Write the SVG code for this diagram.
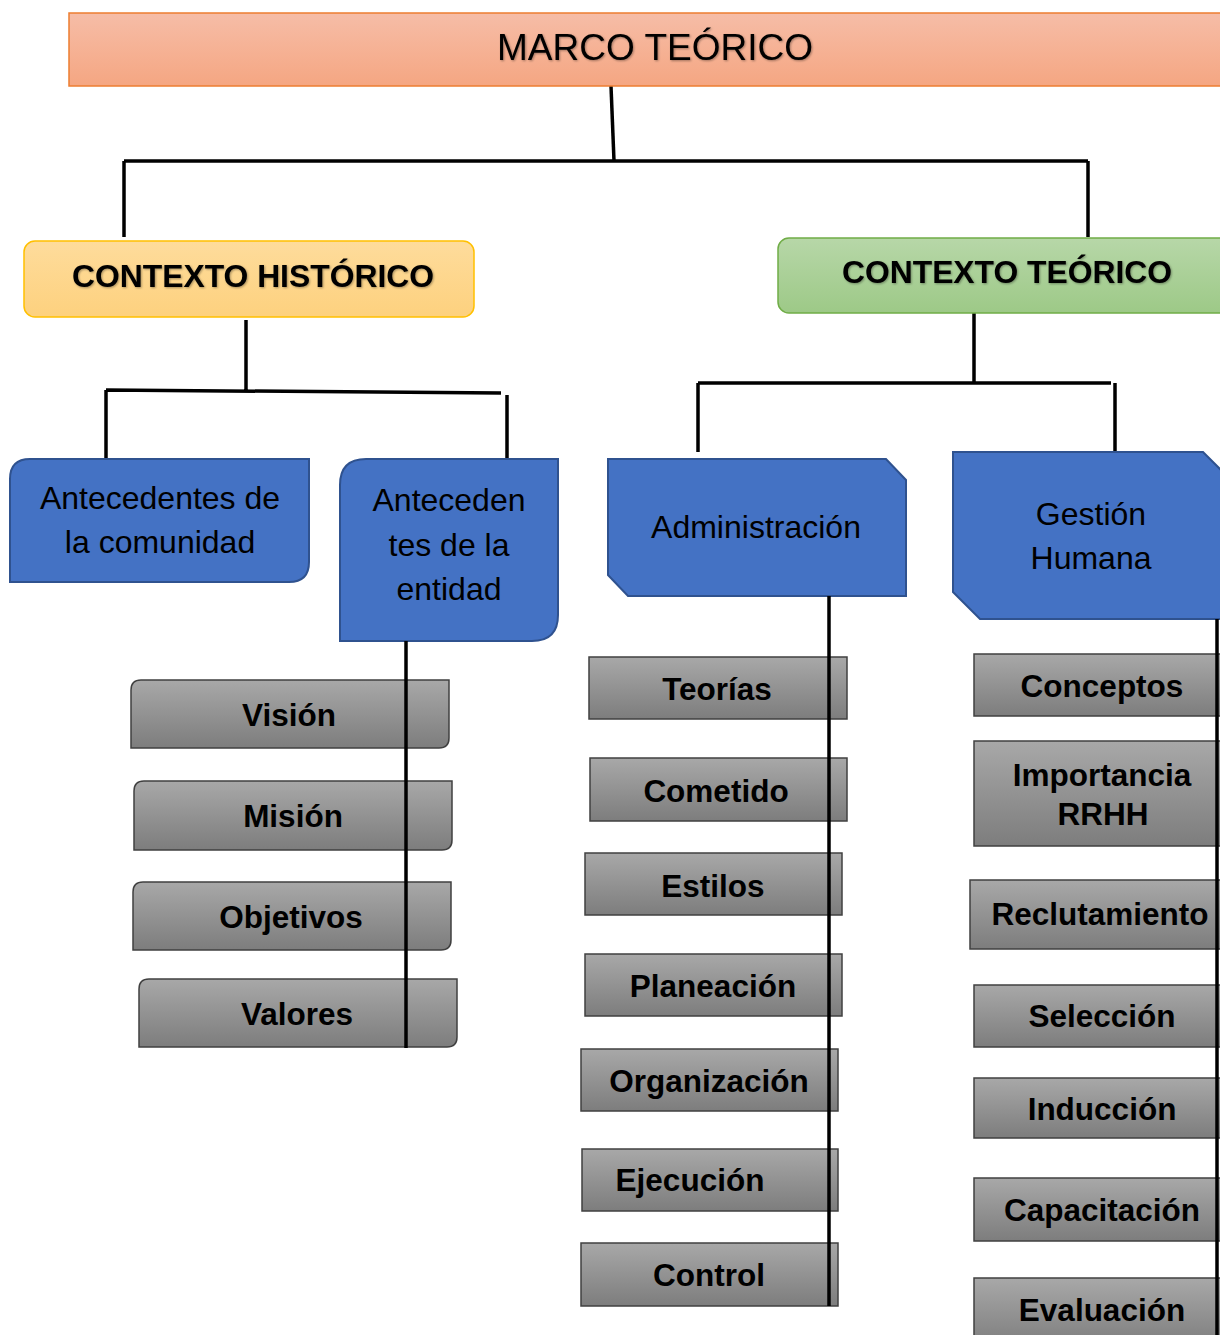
<svg xmlns="http://www.w3.org/2000/svg" width="1220" height="1335" viewBox="0 0 1220 1335">
<style>
.t{font-family:"Liberation Sans",Arial,sans-serif;text-anchor:middle;fill:#000}
.b{font-weight:bold;font-size:31.5px}
.n{font-size:32px}
.blue{fill:#4472c4;stroke:#2f528f;stroke-width:2}
.gray{fill:url(#gg);stroke:#404040;stroke-width:1.5}
.ln{stroke:#000;stroke-width:3.5;fill:none}
</style>
<defs>
<linearGradient id="go" x1="0" y1="0" x2="0" y2="1"><stop offset="0" stop-color="#f6bda7"/><stop offset="1" stop-color="#f5a682"/></linearGradient>
<linearGradient id="gy" x1="0" y1="0" x2="0" y2="1"><stop offset="0" stop-color="#fedc9c"/><stop offset="1" stop-color="#fdd17e"/></linearGradient>
<linearGradient id="gn" x1="0" y1="0" x2="0" y2="1"><stop offset="0" stop-color="#b7d7a8"/><stop offset="1" stop-color="#9dc987"/></linearGradient>
<linearGradient id="gg" x1="0" y1="0" x2="0" y2="1"><stop offset="0" stop-color="#a8a8a8"/><stop offset="1" stop-color="#7d7d7d"/></linearGradient>
<filter id="sh" x="-5%" y="-20%" width="110%" height="140%"><feDropShadow dx="1" dy="1" stdDeviation="0.8" flood-color="#000" flood-opacity="0.35"/></filter>
</defs>

<g id="connectors">
<path class="ln" d="M611 86 L614 161"/>
<path class="ln" d="M124 161 H1088 M124 161 V237 M1088 161 V237"/>
<path class="ln" d="M246 320 V390 M106 390 L501 393 M106 390 V458 M507 395 V458"/>
<path class="ln" d="M974 313 V383 M698 383 H1111 M698 383 V452 M1115 383 V452"/>
</g>

<g id="marco">
<rect x="69" y="13" width="1160" height="73" fill="url(#go)" stroke="#ed7d31" stroke-width="1.5"/>
<text class="t" x="655" y="60" font-size="37" filter="url(#sh)">MARCO TEÓRICO</text>
</g>

<g id="contexto-historico">
<rect x="24" y="241" width="450" height="76" rx="11" fill="url(#gy)" stroke="#ffc000" stroke-width="1.5"/>
<text class="t" x="253" y="287" font-size="31" font-weight="bold" textLength="362" lengthAdjust="spacingAndGlyphs" filter="url(#sh)">CONTEXTO HISTÓRICO</text>
</g>

<g id="contexto-teorico">
<rect x="778" y="238" width="455" height="75" rx="11" fill="url(#gn)" stroke="#70ad47" stroke-width="1.5"/>
<text class="t" x="1007" y="283" font-size="31" font-weight="bold" textLength="330" lengthAdjust="spacingAndGlyphs" filter="url(#sh)">CONTEXTO TEÓRICO</text>
</g>

<g id="antecedentes-comunidad">
<path class="blue" d="M30 459 H309 V562 Q309 582 289 582 H10 V479 Q10 459 30 459 Z"/>
<text class="t n" x="160" y="509">Antecedentes de</text>
<text class="t n" x="160" y="553">la comunidad</text>
</g>

<g id="antecedentes-entidad">
<path class="blue" d="M366 459 H558 V615 Q558 641 532 641 H340 V485 Q340 459 366 459 Z"/>
<text class="t n" x="449" y="511">Anteceden</text>
<text class="t n" x="449" y="556">tes de la</text>
<text class="t n" x="449" y="600">entidad</text>
</g>

<g id="administracion">
<path class="blue" d="M608 459 H886 L906 480 V596 H628 L608 575 Z"/>
<text class="t n" x="756" y="538">Administración</text>
</g>

<g id="gestion-humana">
<path class="blue" d="M953 452 H1203 L1225 474 V619 H980 L953 592 Z"/>
<text class="t n" x="1091" y="525">Gestión</text>
<text class="t n" x="1091" y="569">Humana</text>
</g>

<g id="vision"><path class="gray" d="M141 680 H449 V738 Q449 748 439 748 H131 V690 Q131 680 141 680 Z"/><text class="t b" x="289" y="726">Visión</text></g>
<g id="mision"><path class="gray" d="M144 781 H452 V840 Q452 850 442 850 H134 V791 Q134 781 144 781 Z"/><text class="t b" x="293" y="827">Misión</text></g>
<g id="objetivos"><path class="gray" d="M143 882 H451 V940 Q451 950 441 950 H133 V892 Q133 882 143 882 Z"/><text class="t b" x="291" y="928">Objetivos</text></g>
<g id="valores"><path class="gray" d="M149 979 H457 V1037 Q457 1047 447 1047 H139 V989 Q139 979 149 979 Z"/><text class="t b" x="297" y="1025">Valores</text></g>

<g id="teorias"><rect class="gray" x="589" y="657" width="258" height="62"/><text class="t b" x="717" y="700">Teorías</text></g>
<g id="cometido"><rect class="gray" x="590" y="758" width="257" height="63"/><text class="t b" x="716" y="802">Cometido</text></g>
<g id="estilos"><rect class="gray" x="585" y="853" width="257" height="62"/><text class="t b" x="713" y="897">Estilos</text></g>
<g id="planeacion"><rect class="gray" x="585" y="954" width="257" height="62"/><text class="t b" x="713" y="997">Planeación</text></g>
<g id="organizacion"><rect class="gray" x="581" y="1049" width="257" height="62"/><text class="t b" x="709" y="1092">Organización</text></g>
<g id="ejecucion"><rect class="gray" x="582" y="1149" width="256" height="62"/><text class="t b" x="690" y="1191">Ejecución</text></g>
<g id="control"><rect class="gray" x="581" y="1243" width="257" height="63"/><text class="t b" x="709" y="1286">Control</text></g>

<g id="conceptos"><rect class="gray" x="974" y="654" width="250" height="62"/><text class="t b" x="1102" y="697">Conceptos</text></g>
<g id="importancia"><rect class="gray" x="974" y="741" width="250" height="105"/><text class="t b" x="1102" y="786">Importancia</text><text class="t b" x="1103" y="825">RRHH</text></g>
<g id="reclutamiento"><rect class="gray" x="970" y="880" width="254" height="69"/><text class="t b" x="1100" y="925">Reclutamiento</text></g>
<g id="seleccion"><rect class="gray" x="974" y="985" width="250" height="62"/><text class="t b" x="1102" y="1027">Selección</text></g>
<g id="induccion"><rect class="gray" x="974" y="1078" width="250" height="60"/><text class="t b" x="1102" y="1120">Inducción</text></g>
<g id="capacitacion"><rect class="gray" x="974" y="1178" width="250" height="63"/><text class="t b" x="1102" y="1221">Capacitación</text></g>
<g id="evaluacion"><rect class="gray" x="974" y="1278" width="250" height="70"/><text class="t b" x="1102" y="1321">Evaluación</text></g>

<g id="connectors-children">
<path class="ln" d="M406 641 V1048"/>
<path class="ln" d="M829 596 V1306"/>
<path class="ln" d="M1217 619 V1335"/>
</g>
</svg>
